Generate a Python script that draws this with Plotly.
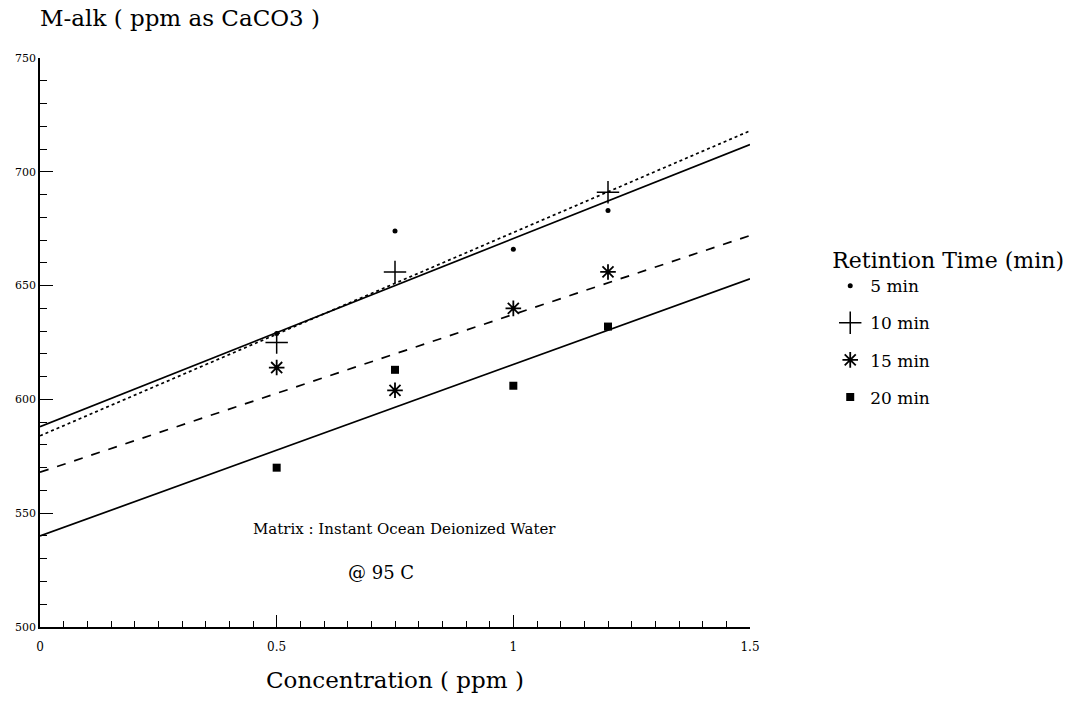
import plotly.graph_objects as go

# ---- data ----
conc = [0.5, 0.75, 1.0, 1.2]
alk_5min = [629, 674, 666, 683]
alk_10min = [625, 656, None, 691]
alk_15min = [614, 604, 640, 656]
alk_20min = [570, 613, 606, 632]

fit_x = [0, 1.5]
fit_5min = [588, 712]
fit_10min = [584, 718]
fit_15min = [568, 672]
fit_20min = [540, 653]

x_tickvals = [0, 0.5, 1, 1.5]
x_ticktext = ["0", "0.5", "1", "1.5"]
y_tickvals = [500, 550, 600, 650, 700, 750]

FONT = "DejaVu Serif"

fig = go.Figure()

# fitted lines
fig.add_trace(go.Scatter(x=fit_x, y=fit_5min, mode="lines", line=dict(color="black", width=1.7),
                         showlegend=False, hoverinfo="skip"))
fig.add_trace(go.Scatter(x=fit_x, y=fit_10min, mode="lines", line=dict(color="black", width=1.7, dash="dot"),
                         showlegend=False, hoverinfo="skip"))
fig.add_trace(go.Scatter(x=fit_x, y=fit_15min, mode="lines", line=dict(color="black", width=1.7, dash="dash"),
                         showlegend=False, hoverinfo="skip"))
fig.add_trace(go.Scatter(x=fit_x, y=fit_20min, mode="lines", line=dict(color="black", width=1.7),
                         showlegend=False, hoverinfo="skip"))

# data points
fig.add_trace(go.Scatter(x=conc, y=alk_5min, mode="markers", name="5 min", legendgroup="a",
                         marker=dict(symbol="circle", size=5, color="black")))
fig.add_trace(go.Scatter(x=conc, y=alk_10min, mode="markers", name="10 min", legendgroup="b",
                         marker=dict(symbol="cross-thin-open", size=16, color="black",
                                     line=dict(color="black", width=1.5))))
fig.add_trace(go.Scatter(x=conc, y=alk_15min, mode="markers", name="15 min", legendgroup="c",
                         marker=dict(symbol="asterisk-open", size=13, color="black",
                                     line=dict(color="black", width=1.8))))
fig.add_trace(go.Scatter(x=conc, y=alk_20min, mode="markers", name="20 min", legendgroup="d",
                         marker=dict(symbol="square", size=8, color="black")))

fig.update_layout(
    width=1080, height=708,
    paper_bgcolor="white", plot_bgcolor="white",
    margin=dict(l=40, r=330, t=58, b=81),
    font=dict(family=FONT, color="black", size=12),
    legend=dict(
        x=1.113, y=0.681, xanchor="left", yanchor="top",
        title=dict(text="Retintion Time (min)", font=dict(family=FONT, size=22)),
        font=dict(family=FONT, size=17),
        traceorder="grouped", tracegroupgap=12,
        bgcolor="rgba(0,0,0,0)",
        itemwidth=30,
    ),
    xaxis=dict(
        range=[0, 1.5], tickvals=x_tickvals, ticktext=x_ticktext,
        showline=True, linecolor="black", linewidth=1.5, mirror=False,
        ticks="inside", ticklen=12, tickwidth=1.2, tickcolor="black",
        minor=dict(dtick=0.05, ticks="inside", ticklen=6, tickwidth=1, tickcolor="black", showgrid=False),
        showgrid=False, zeroline=False,
        tickfont=dict(family=FONT, size=12),
        ticklabelstandoff=8,
    ),
    yaxis=dict(
        range=[500, 750], tickvals=y_tickvals,
        showline=True, linecolor="black", linewidth=1.5, mirror=False,
        ticks="inside", ticklen=13, tickwidth=1.2, tickcolor="black",
        minor=dict(dtick=10, ticks="inside", ticklen=7, tickwidth=1, tickcolor="black", showgrid=False),
        showgrid=False, zeroline=False,
        tickfont=dict(family=FONT, size=11),
    ),
    annotations=[
        dict(text="M-alk ( ppm as CaCO3 )", xref="paper", yref="paper", x=0.0, y=1.0,
             xshift=-2, yshift=40, xanchor="left", yanchor="middle", showarrow=False,
             font=dict(family=FONT, size=23)),
        dict(text="Concentration ( ppm )", xref="paper", yref="paper", x=0.5, y=0,
             yshift=-53, xanchor="center", yanchor="middle", showarrow=False,
             font=dict(family=FONT, size=23)),
        dict(text="Matrix : Instant Ocean Deionized Water", xref="x", yref="y", x=0.77, y=543,
             xanchor="center", yanchor="middle", showarrow=False,
             font=dict(family=FONT, size=15)),
        dict(text="@ 95 C", xref="x", yref="y", x=0.72, y=524,
             xanchor="center", yanchor="middle", showarrow=False,
             font=dict(family=FONT, size=18)),
    ],
)

fig.write_html("out.html")
